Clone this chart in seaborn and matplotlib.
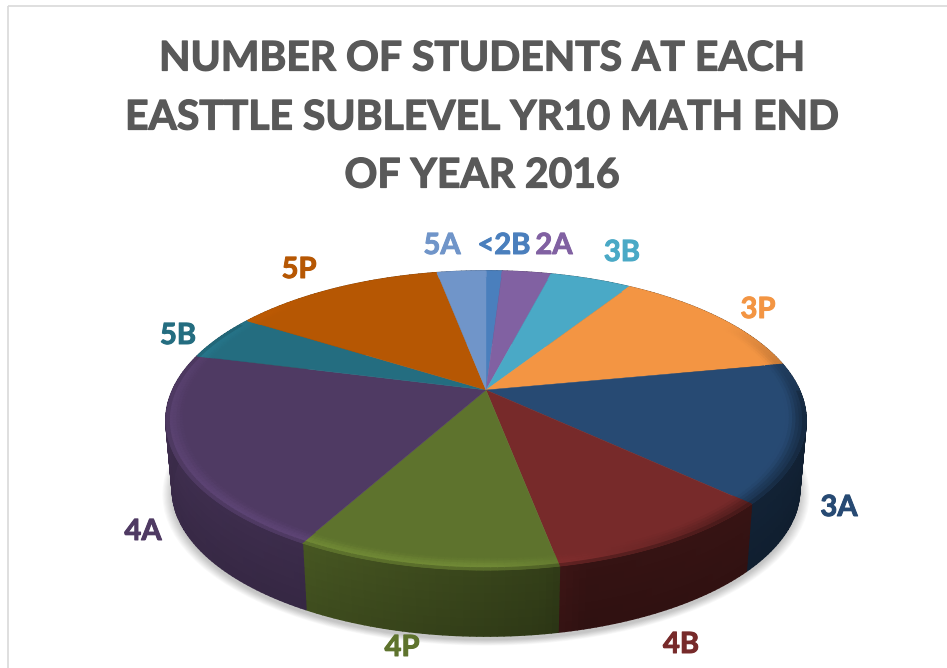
import numpy as np
import matplotlib
matplotlib.use("Agg")
import matplotlib.pyplot as plt
import matplotlib.patheffects as pe
from matplotlib.collections import PolyCollection
from matplotlib.patches import Rectangle
import seaborn as sns

labels = ["<2B", "2A", "3B", "3P", "3A", "4B", "4P", "4A", "5B", "5P", "5A"]
students = [1, 3, 5, 13, 15, 10, 11, 21, 5, 13, 3]
hex_colors = ["#4a7fbd", "#8161a2", "#4aa9c6", "#f39543", "#274a73", "#772a2a",
              "#5e732d", "#4f3a63", "#246d80", "#b65703", "#7095c9"]
title = "NUMBER OF STUDENTS AT EACH\nEASTTLE SUBLEVEL YR10 MATH END\nOF YEAR 2016"

# where excel put the labels, in pixels
label_xy = [(504, 246), (554, 246), (622, 253), (758, 310), (839, 508), (681, 645),
            (402, 648), (143, 532), (178, 336), (299, 270), (442, 246)]

sns.set_theme(style="white")
plt.rcParams['font.family'] = ['Lato', 'DejaVu Sans']
palette = sns.color_palette(hex_colors)

# perspective of the disc
cx, cy = 486, 390
a, b, k = 313.3, 143.3, 0.204
wall_scale, wall_drop = 0.98, 69.6


def top_xy(theta, r):
    u = r * np.sin(theta)
    v = r * np.cos(theta)
    w = 1 + k * v
    return cx + a * u / w, cy - b * v / w


def bottom_xy(theta):
    x, y = top_xy(theta, 1.0)
    return cx + wall_scale * (x - cx), cy + wall_drop + wall_scale * (y - cy)


def wall_shade(deg):
    return np.interp(deg, [0, 90, 130, 165, 172, 210, 270, 360],
                     [0.6, 0.42, 0.44, 0.42, 0.52, 0.72, 0.78, 0.6])


def rim_light(deg):
    return np.interp(deg, [0, 60, 100, 140, 180, 230, 280, 320, 360],
                     [0, 0, -0.35, -0.25, 0.2, 0.17, 0.1, 0, 0])


fig, ax = plt.subplots(figsize=(9.47, 6.68), dpi=100)
ax.set_position([0, 0, 1, 1])
ax.set_xlim(0, 947)
ax.set_ylim(668, 0)
ax.axis("off")

ax.add_patch(Rectangle((8, 6), 960, 700, fill=False, edgecolor="#d9d9d9", linewidth=1.2))

# soft shadow under the pie
around = np.radians(np.arange(0, 361, 3))
bx, by = bottom_xy(around)
for grow in np.linspace(1.032, 1.0, 10):
    ax.fill(cx + grow * (bx - cx), cy + wall_drop + 4 + grow * (by - cy - wall_drop),
            color="black", alpha=0.022, linewidth=0)

edges = np.concatenate([[0], np.cumsum(students)]) / np.sum(students) * 360

wall_polys, wall_cols = [], []
bevel_polys, bevel_cols = [], []
rings = np.linspace(0.94, 1.0, 7)
for i, col in enumerate(palette):
    col = np.array(col)
    degs = np.linspace(edges[i], edges[i + 1], max(int((edges[i + 1] - edges[i]) / 1.0), 2) + 1)
    for d0, d1 in zip(degs[:-1], degs[1:]):
        t0, t1 = np.radians(d0), np.radians(d1)
        mid = (d0 + d1) / 2
        # side of the pie, darker towards the base
        x0, y0 = top_xy(t0, 1.0)
        x1, y1 = top_xy(t1, 1.0)
        x2, y2 = bottom_xy(t1)
        x3, y3 = bottom_xy(t0)
        for s0, s1 in zip(np.linspace(0, 1, 9)[:-1], np.linspace(0, 1, 9)[1:]):
            wall_polys.append([(x0 + s0 * (x3 - x0), y0 + s0 * (y3 - y0)),
                               (x1 + s0 * (x2 - x1), y1 + s0 * (y2 - y1)),
                               (x1 + s1 * (x2 - x1), y1 + s1 * (y2 - y1)),
                               (x0 + s1 * (x3 - x0), y0 + s1 * (y3 - y0))])
            wall_cols.append(np.clip(col * wall_shade(mid) * (1.06 - 0.12 * (s0 + s1) / 2), 0, 1))
        # bevelled edge of the top face
        for r0, r1 in zip(rings[:-1], rings[1:]):
            xa, ya = top_xy(t0, r0)
            xb, yb = top_xy(t1, r0)
            xc, yc = top_xy(t1, r1)
            xd, yd = top_xy(t0, r1)
            bevel_polys.append([(xa, ya), (xb, yb), (xc, yc), (xd, yd)])
            p = ((r0 + r1) / 2 - 0.94) / 0.06
            bump = np.sin(np.pi * min(p / 0.85, 1) / 2) ** 2
            shade = 1 + rim_light(mid) * bump
            if p > 0.85 and 90 < mid < 300:
                shade = shade + (wall_shade(mid) * 1.06 - shade) * (p - 0.85) / 0.15
            bevel_cols.append(np.clip(col * shade, 0, 1))

ax.add_collection(PolyCollection(wall_polys, facecolors=wall_cols, edgecolors=wall_cols, linewidths=1.2))

# flat part of the top face, one shape per slice
for i, col in enumerate(palette):
    th = np.radians(np.linspace(edges[i], edges[i + 1], 60))
    fx, fy = top_xy(th, 1.0)
    ax.fill(np.r_[cx, fx], np.r_[cy, fy], color=col, linewidth=0.3)

ax.add_collection(PolyCollection(bevel_polys, facecolors=bevel_cols, edgecolors=bevel_cols, linewidths=0.7))

for lab, (lx, ly), col in zip(labels, label_xy, hex_colors):
    ax.text(lx, ly, lab, color=col, fontsize=21, fontweight="bold", ha="center", va="center",
            path_effects=[pe.withStroke(linewidth=0.7, foreground=col)])

for line, ty in zip(title.split("\n"), [59, 118, 176]):
    ax.text(482, ty, line, color="#595959", fontsize=29.4, fontweight="bold", ha="center", va="center",
            path_effects=[pe.withStroke(linewidth=0.9, foreground="#595959")])

fig.savefig("out.png", dpi=100)
